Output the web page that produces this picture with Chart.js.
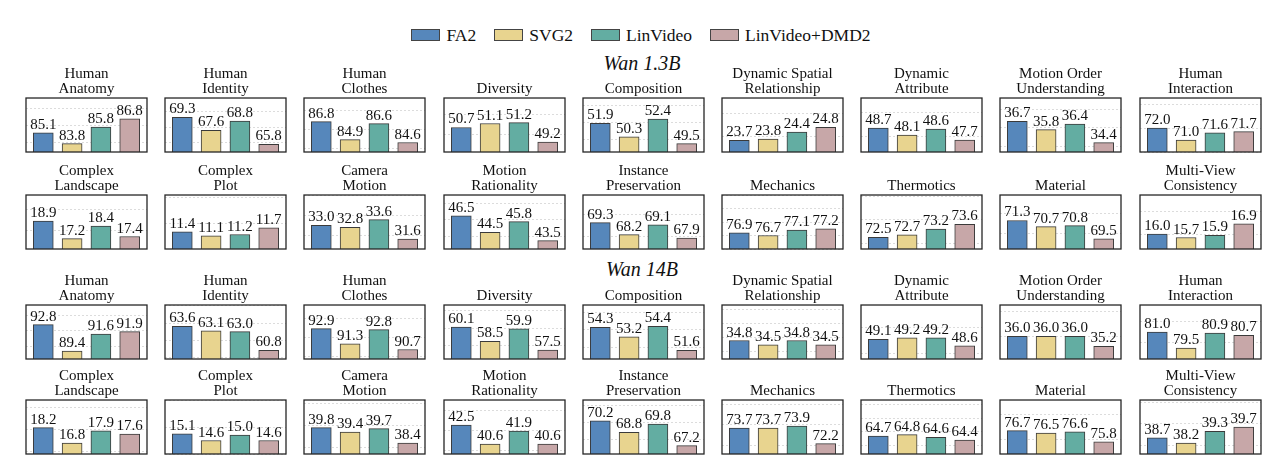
<!DOCTYPE html>
<html>
<head>
<meta charset="utf-8">
<script src="https://cdn.jsdelivr.net/npm/chart.js@4.4.1/dist/chart.umd.min.js"></script>
<style>
  body { margin: 0; background: #fff; width: 1280px; height: 468px; overflow: hidden; position: relative;
         font-family: 'Liberation Serif', 'DejaVu Serif', serif; color: #111; }
  .panel { position: absolute; }
  #legend { position: absolute; top: 24.6px; left: 0; width: 1282px; height: 20px; line-height: 20px;
            display: flex; justify-content: center; align-items: center; font-size: 17.5px; }
  #legend .item { display: flex; align-items: center; margin: 0 9px; }
  #legend .sw { width: 27px; height: 10px; border: 1px solid #444; margin-right: 6px; }
  .section { position: absolute; left: 0; width: 1284px; text-align: center; font-style: italic;
             font-size: 20px; line-height: 20px; }
</style>
</head>
<body>
<div id="legend"></div>
<div class="section" style="top:53px">Wan 1.3B</div>
<div class="section" style="top:259px">Wan 14B</div>
<script>
// panel titles ("\n" marks the line break used in the figure)
const categories = [
  'Human\nAnatomy', 'Human\nIdentity', 'Human\nClothes', 'Diversity', 'Composition',
  'Dynamic Spatial\nRelationship', 'Dynamic\nAttribute', 'Motion Order\nUnderstanding', 'Human\nInteraction',
  'Complex\nLandscape', 'Complex\nPlot', 'Camera\nMotion', 'Motion\nRationality', 'Instance\nPreservation',
  'Mechanics', 'Thermotics', 'Material', 'Multi-View\nConsistency'
];

const seriesNames = ['FA2', 'SVG2', 'LinVideo', 'LinVideo+DMD2'];
const seriesColors = ['#5687bb', '#e8d48f', '#63ada2', '#c7a7a8'];

const sections = ['Wan 1.3B', 'Wan 14B'];

// Wan 1.3B
const fa2_13b  = [85.1, 69.3, 86.8, 50.7, 51.9, 23.7, 48.7, 36.7, 72.0, 18.9, 11.4, 33.0, 46.5, 69.3, 76.9, 72.5, 71.3, 16.0];
const svg2_13b = [83.8, 67.6, 84.9, 51.1, 50.3, 23.8, 48.1, 35.8, 71.0, 17.2, 11.1, 32.8, 44.5, 68.2, 76.7, 72.7, 70.7, 15.7];
const lin_13b  = [85.8, 68.8, 86.6, 51.2, 52.4, 24.4, 48.6, 36.4, 71.6, 18.4, 11.2, 33.6, 45.8, 69.1, 77.1, 73.2, 70.8, 15.9];
const dmd2_13b = [86.8, 65.8, 84.6, 49.2, 49.5, 24.8, 47.7, 34.4, 71.7, 17.4, 11.7, 31.6, 43.5, 67.9, 77.2, 73.6, 69.5, 16.9];

// Wan 14B
const fa2_14b  = [92.8, 63.6, 92.9, 60.1, 54.3, 34.8, 49.1, 36.0, 81.0, 18.2, 15.1, 39.8, 42.5, 70.2, 73.7, 64.7, 76.7, 38.7];
const svg2_14b = [89.4, 63.1, 91.3, 58.5, 53.2, 34.5, 49.2, 36.0, 79.5, 16.8, 14.6, 39.4, 40.6, 68.8, 73.7, 64.8, 76.5, 38.2];
const lin_14b  = [91.6, 63.0, 92.8, 59.9, 54.4, 34.8, 49.2, 36.0, 80.9, 17.9, 15.0, 39.7, 41.9, 69.8, 73.9, 64.6, 76.6, 39.3];
const dmd2_14b = [91.9, 60.8, 90.7, 57.5, 51.6, 34.5, 48.6, 35.2, 80.7, 17.6, 14.6, 38.4, 40.6, 67.2, 72.2, 64.4, 75.8, 39.7];

const sectionSeries = [
  [fa2_13b, svg2_13b, lin_13b, dmd2_13b],
  [fa2_14b, svg2_14b, lin_14b, dmd2_14b]
];

// layout
const FONT = "'Liberation Serif', 'DejaVu Serif', serif";
const BOX_W = 121, BOX_H = 54, PAD = 9;
const COL0 = 26, COL_STEP = 139.2;
const ROW_TOPS = [98, 195, 305, 400];
const TITLE_H = 31;

// legend
const legend = document.getElementById('legend');
seriesNames.forEach(function(name, i) {
  const item = document.createElement('div');
  item.className = 'item';
  item.innerHTML = '<div class="sw" style="background:' + seriesColors[i] + '"></div><span>' + name + '</span>';
  legend.appendChild(item);
});

const frameAndLabels = {
  id: 'frameAndLabels',
  afterDatasetsDraw(chart) {
    const ctx = chart.ctx;
    const a = chart.chartArea;
    ctx.save();
    ctx.strokeStyle = '#262626';
    ctx.lineWidth = 1.3;
    ctx.strokeRect(a.left, a.top, a.right - a.left, a.bottom - a.top);
    ctx.fillStyle = '#111';
    ctx.font = '15px ' + FONT;
    ctx.textAlign = 'center';
    ctx.textBaseline = 'alphabetic';
    chart.getDatasetMeta(0).data.forEach(function(bar, i) {
      const v = chart.data.datasets[0].data[i].y;
      ctx.fillText(v.toFixed(1), bar.x, bar.y - 4);
    });
    ctx.restore();
  }
};

function tickStep(range) {
  if (range <= 4) return 1;
  return 2;
}

function buildPanel(title, values, left, top) {
  const wrap = document.createElement('div');
  wrap.className = 'panel';
  wrap.style.left = (left - PAD) + 'px';
  wrap.style.top = (top - TITLE_H) + 'px';
  const canvas = document.createElement('canvas');
  canvas.width = BOX_W + 2 * PAD;
  canvas.height = TITLE_H + BOX_H + 1;
  wrap.appendChild(canvas);
  document.body.appendChild(wrap);

  const lo = Math.min.apply(null, values) - 1;
  const hi = Math.max.apply(null, values) + 2.5;

  new Chart(canvas, {
    type: 'bar',
    data: {
      datasets: [{
        data: values.map(function(v, i) { return { x: i, y: v }; }),
        backgroundColor: seriesColors,
        borderColor: '#3a3a3a',
        borderWidth: 1,
        barThickness: 20
      }]
    },
    options: {
      responsive: false,
      devicePixelRatio: 1,
      animation: false,
      layout: { padding: { left: PAD, right: PAD, top: 0, bottom: 1 } },
      plugins: {
        legend: { display: false },
        tooltip: { enabled: false },
        title: {
          display: true,
          text: title.indexOf('\n') >= 0 ? title.split('\n') : ['', title],
          color: '#111',
          font: { family: FONT, size: 15, weight: 'normal', lineHeight: 0.967 },
          padding: { top: 0, bottom: 2 }
        }
      },
      scales: {
        x: {
          type: 'linear', min: -0.6, max: 3.6, offset: false, display: false,
          grid: { display: false },
          ticks: { stepSize: 1, includeBounds: false }
        },
        y: {
          min: lo, max: hi,
          grid: { color: '#d4d4d4', lineWidth: 0.8, drawTicks: false },
          border: { display: false, dash: [2, 2] },
          ticks: { display: false, stepSize: tickStep(hi - lo), includeBounds: false }
        }
      }
    },
    plugins: [frameAndLabels]
  });
}

sections.forEach(function(sec, s) {
  categories.forEach(function(cat, i) {
    const row = s * 2 + Math.floor(i / 9);
    const col = i % 9;
    const values = sectionSeries[s].map(function(series) { return series[i]; });
    buildPanel(cat, values, COL0 + col * COL_STEP, ROW_TOPS[row]);
  });
});
</script>
</body>
</html>
